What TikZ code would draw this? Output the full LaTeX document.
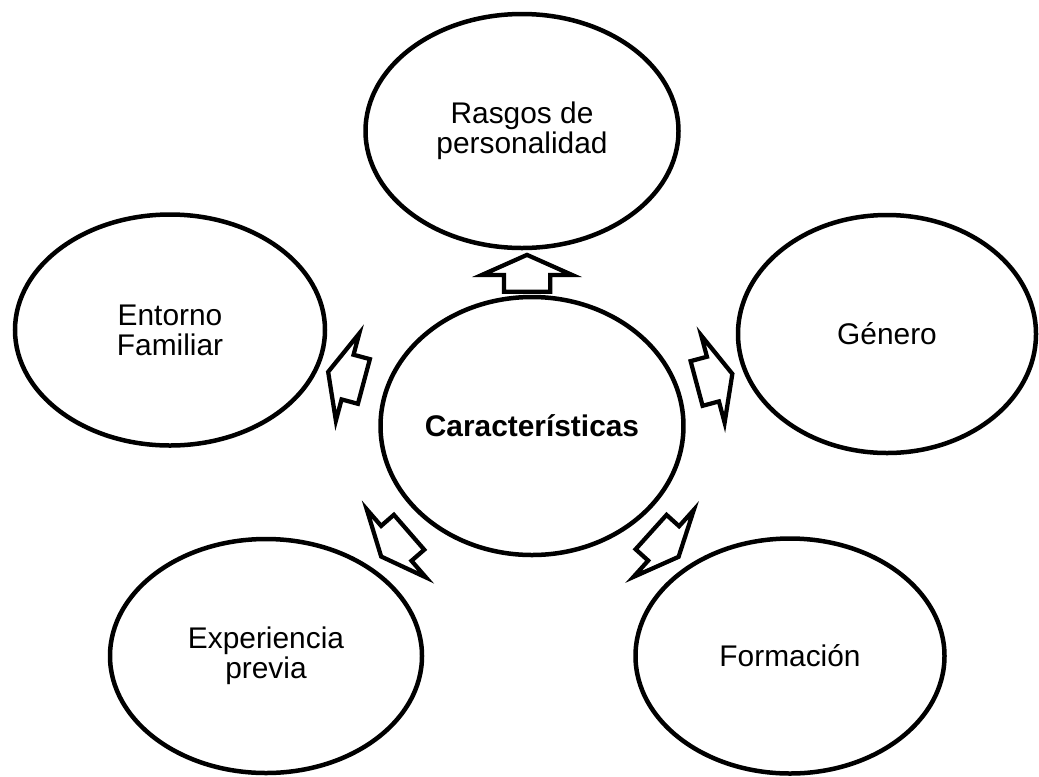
\documentclass[tikz,border=0pt]{standalone}
\usepackage{fontspec}
\setmainfont{Liberation Sans}
\usepackage{tikz}
\usetikzlibrary{shapes.geometric, shapes.arrows, calc}

\begin{document}
\begin{tikzpicture}[
        ovalo/.style={shape=ellipse, draw, color=black, line width=0.09cm, align=center,
            inner sep=0pt, font=\fontsize{17}{17}\selectfont},
        flecha/.style={shape=single arrow, draw, color=black, line width=0.085cm,
            inner xsep=0pt, inner ysep=0.42cm, single arrow head extend=0.44cm,
            single arrow tip angle=132, single arrow head indent=0pt, minimum height=0.74cm}
    ]
            \useasboundingbox (0,0) rectangle (20.78,-15.52);
            \node[ovalo, minimum width=5.98cm, minimum height=5.16cm, font=\fontsize{17}{17}\selectfont\bfseries] (Caracteristicas) at (10.64,-8.52) {Características};
            \node[ovalo, minimum width=6.26cm, minimum height=4.68cm] (Rasgos) at (10.44,-2.62) {Rasgos de\\personalidad};
            \node[ovalo, minimum width=6.2cm, minimum height=4.62cm] (Entorno) at (3.40,-6.60) {Entorno\\Familiar};
            \node[ovalo, minimum width=5.96cm, minimum height=4.76cm] (Genero) at (17.74,-6.68) {Género};
            \node[ovalo, minimum width=6.24cm, minimum height=4.68cm] (Experiencia) at (5.32,-13.12) {Experiencia\\previa};
            \node[ovalo, minimum width=6.18cm, minimum height=4.7cm] (Formacion) at (15.80,-13.12) {Formación};
            % flechas desde el centro
            \node[flecha, rotate=90] (aRasgos) at ($(Caracteristicas)!0.5!(Rasgos)$) {};
            \node[flecha, rotate=165] (aEntorno) at ($(Caracteristicas)!0.5!(Entorno)$) {};
            \node[flecha, rotate=15] (aGenero) at ($(Caracteristicas)!0.5!(Genero)$) {};
            \node[flecha, rotate=221] (aExperiencia) at ($(Caracteristicas)!0.5!(Experiencia)$) {};
            \node[flecha, rotate=318] (aFormacion) at ($(Caracteristicas)!0.5!(Formacion)$) {};
        \end{tikzpicture}
\end{document}
